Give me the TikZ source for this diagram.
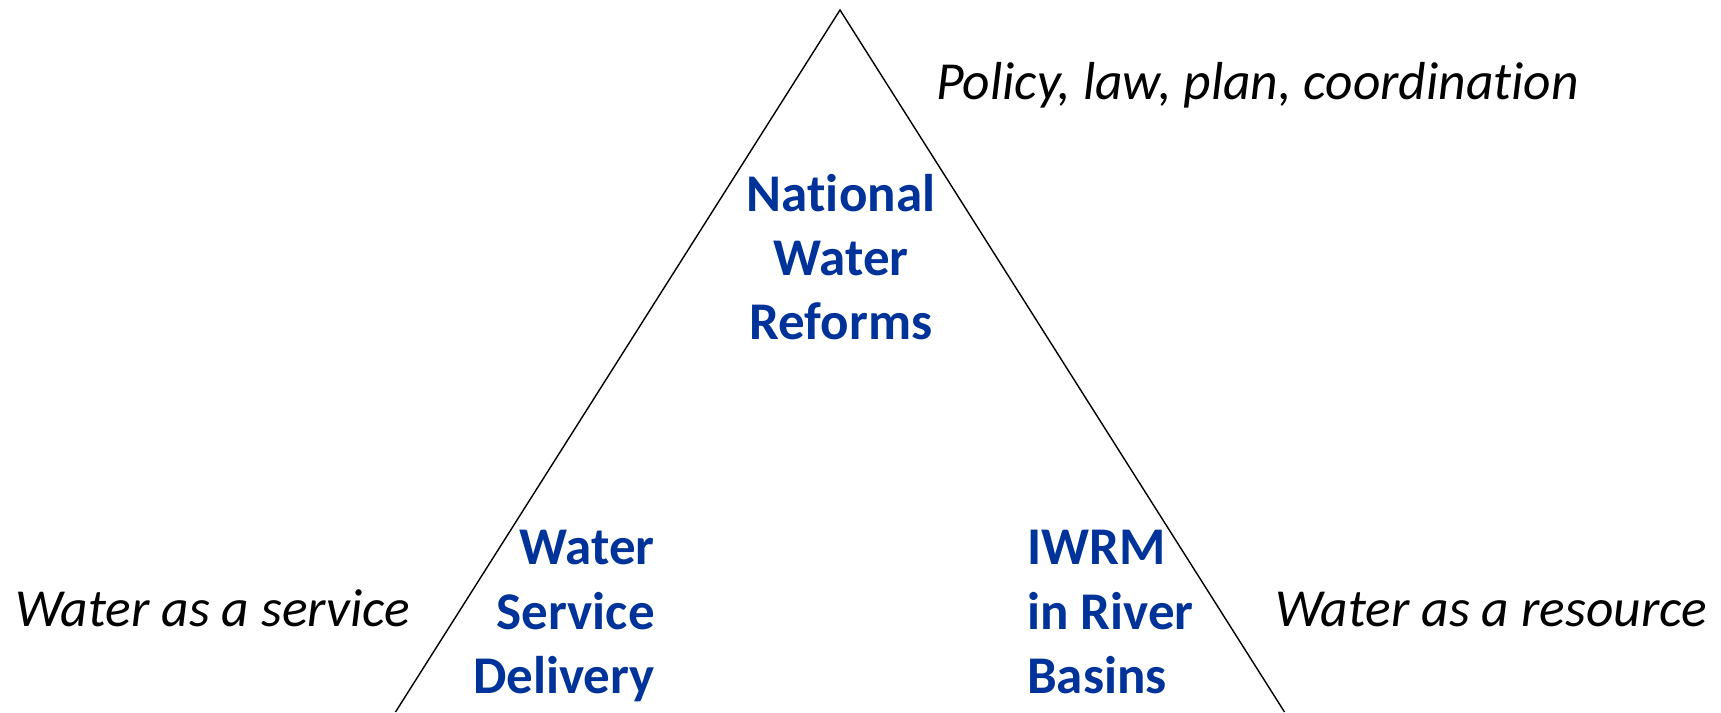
\documentclass[tikz,border=0pt]{standalone}
\usepackage{fontspec}
\setmainfont{Carlito}[Ligatures=NoCommon]
\definecolor{titleblue}{RGB}{0,51,153}
\begin{document}
\begin{tikzpicture}[x=1pt,y=1pt,
  lbl/.style={inner sep=0pt, font=\fontsize{53.5}{64}\selectfont\itshape, text=black},
  blk/.style={inner sep=0pt, font=\fontsize{53}{64}\selectfont\bfseries, text=titleblue},
  edge/.style={line width=1.4pt, black, line join=miter}]
\useasboundingbox (0,0) rectangle (1721,712);
\coordinate (apex) at (840,702);
\coordinate (bl) at (395.5,0);
\coordinate (br) at (1284.5,0);
\draw[edge] (bl) -- (apex) -- (br);
\node[blk, anchor=base, align=center] (nwr) at (841,372) {National\\Water\\Reforms};
\node[blk, anchor=base east, align=right] (wsd) at (655,19) {Water\\Service\\Delivery};
\node[blk, anchor=base west, align=left] (iwrm) at (1027,19) {IWRM\\in River\\Basins};
\node[lbl, anchor=base west] (policy) at (936,612) {Policy, law, plan, coordination};
\node[lbl, anchor=base west] (service) at (15,85) {Water as a service};
\node[lbl, anchor=base west] (resource) at (1275,85) {Water as a resource};
\end{tikzpicture}
\end{document}
